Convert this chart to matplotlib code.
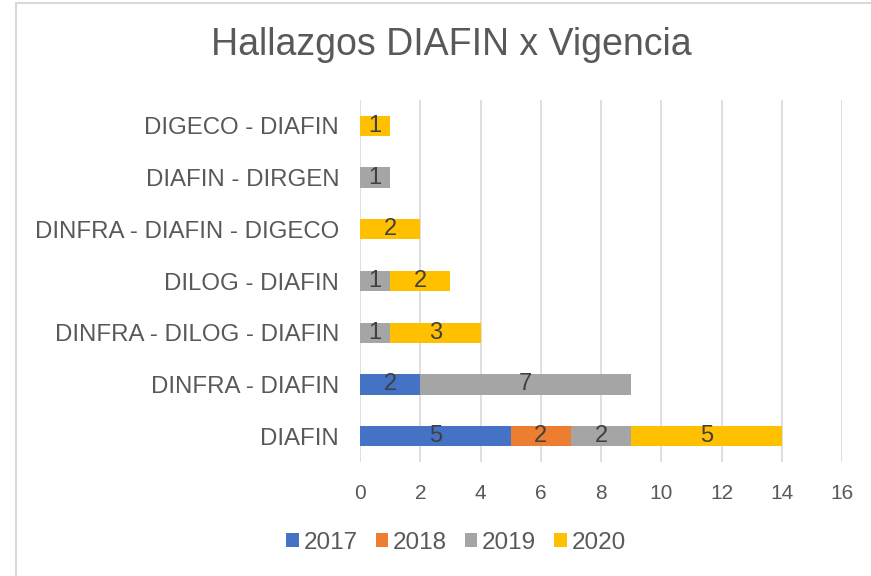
import matplotlib
matplotlib.use("Agg")
import matplotlib.pyplot as plt
from matplotlib.patches import Rectangle

# Datos (de abajo hacia arriba)
categorias = ["DIAFIN", "DINFRA - DIAFIN", "DINFRA - DILOG - DIAFIN", "DILOG - DIAFIN",
              "DINFRA - DIAFIN - DIGECO", "DIAFIN - DIRGEN", "DIGECO - DIAFIN"]
anios = ["2017", "2018", "2019", "2020"]
v2017 = [5, 2, 0, 0, 0, 0, 0]
v2018 = [2, 0, 0, 0, 0, 0, 0]
v2019 = [2, 7, 1, 1, 0, 1, 0]
v2020 = [5, 0, 3, 2, 2, 0, 1]
colores = ["#4472C4", "#ED7D31", "#A5A5A5", "#FFC000"]

plt.rcParams['font.family'] = ['Liberation Sans', 'DejaVu Sans']
gris = "#595959"

fig = plt.figure(figsize=(8.71, 5.76), dpi=100)
ax = fig.add_axes([360 / 871, 114 / 576, 482 / 871, 362 / 576])

# marco del área del gráfico
fig.patches.append(Rectangle((16 / 871, -0.01), 1.0, 1.0 - 3 / 576 + 0.01,
                             transform=fig.transFigure, fill=False,
                             edgecolor="#D9D9D9", linewidth=1.5))

izq = [0] * len(categorias)
for serie, nombre, color in zip([v2017, v2018, v2019, v2020], anios, colores):
    barras = ax.barh(range(len(categorias)), serie, left=izq, height=0.39,
                     color=color, label=nombre, zorder=3)
    for b, v in zip(barras, serie):
        if v > 0:
            ax.text(b.get_x() + b.get_width() / 2, b.get_y() + b.get_height() / 2,
                    str(v), ha="center", va="center", fontsize=17, color="#404040", zorder=4)
    izq = [a + b for a, b in zip(izq, serie)]

ax.set_xlim(0, 16)
ax.set_ylim(-0.5, len(categorias) - 0.5)
ax.set_xticks(range(0, 17, 2))
ax.set_yticks(range(len(categorias)))
ax.set_yticklabels(categorias)
ax.grid(axis="x", color="#D9D9D9", linewidth=1.2, zorder=0)
for s in ax.spines.values():
    s.set_visible(False)
ax.tick_params(axis="both", length=0, labelcolor=gris)
ax.tick_params(axis="x", pad=16, labelsize=15)
ax.tick_params(axis="y", pad=15, labelsize=17.3)

fig.text(451 / 871, 1 - 45 / 576, "Hallazgos DIAFIN x Vigencia", ha="center", va="center",
         fontsize=27, color=gris)

fig.legend(loc="center", bbox_to_anchor=(456 / 871, 1 - 543 / 576), ncol=4, frameon=False,
           fontsize=17.5, labelcolor=gris, handlelength=0.5, handleheight=0.5,
           handletextpad=0.2, columnspacing=0.75)

fig.savefig("out.png", dpi=100)
